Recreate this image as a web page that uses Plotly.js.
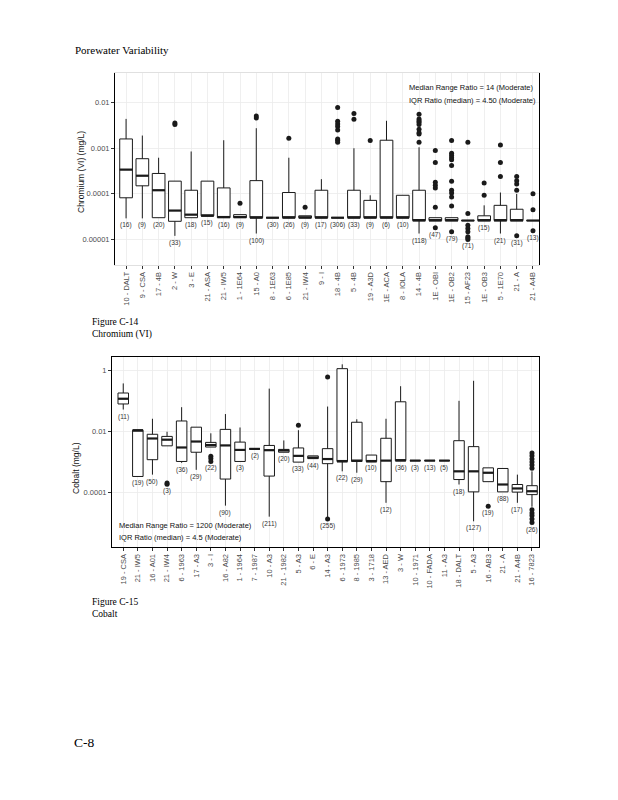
<!DOCTYPE html>
<html><head><meta charset="utf-8">
<script src="https://cdn.plot.ly/plotly-3.0.1.min.js"></script>
<style>html,body{margin:0;padding:0;background:#fff;}#chart{width:618px;height:800px;}</style>
</head><body><div id="chart"></div>
<script>
// ---------- Figure C-14: Chromium (VI) ----------
const crSites = ["10 - DALT","9 - CSA","17 - 4B","2 - W","3 - E","21 - ASA","21 - IW5","1 - 1E64","15 - A0","8 - 1E63","6 - 1E85","21 - IW4","9 - I","18 - 4B","5 - 4B","19 - A3D","1E - ACA","8 - IOLA","14 - 4B","1E - OBI","1E - OB2","15 - AF23","1E - OB3","5 - 1E70","21 - A","21 - A4B"];
const crLower  = [2.9e-5,2.9e-5,3.0e-5,1.2e-5,3.0e-5,3.3e-5,3.0e-5,3.0e-5,1.35e-5,3.0e-5,3.0e-5,3.0e-5,3.0e-5,3.0e-5,3.0e-5,3.0e-5,3.0e-5,3.0e-5,1.35e-5,2.6e-5,2.6e-5,2.6e-5,2.6e-5,1.35e-5,2.6e-5,2.6e-5];
const crQ1     = [8.2e-5,1.5e-4,3.0e-5,2.5e-5,3.0e-5,3.3e-5,3.0e-5,3.0e-5,3.0e-5,3.0e-5,3.0e-5,3.0e-5,3.0e-5,3.0e-5,3.0e-5,3.0e-5,3.0e-5,3.0e-5,2.6e-5,2.6e-5,2.6e-5,2.6e-5,2.6e-5,2.6e-5,2.6e-5,2.6e-5];
const crMedian = [3.4e-4,2.5e-4,1.2e-4,4.3e-5,3.5e-5,3.3e-5,3.1e-5,3.1e-5,3.0e-5,3.0e-5,3.0e-5,3.0e-5,3.0e-5,3.0e-5,3.0e-5,3.0e-5,3.0e-5,3.0e-5,2.6e-5,2.6e-5,2.6e-5,2.6e-5,2.6e-5,2.6e-5,2.6e-5,2.6e-5];
const crQ3     = [1.6e-3,5.9e-4,2.8e-4,1.9e-4,1.2e-4,1.9e-4,1.35e-4,3.5e-5,1.95e-4,3.0e-5,1.07e-4,3.3e-5,1.2e-4,3.0e-5,1.2e-4,7.2e-5,1.5e-3,9.3e-5,1.2e-4,3.0e-5,3.0e-5,2.6e-5,3.3e-5,5.6e-5,4.6e-5,2.6e-5];
const crUpper  = [4.4e-3,1.9e-3,6.2e-4,1.9e-4,8.5e-4,1.9e-4,1.5e-3,3.5e-5,2.75e-3,3.0e-5,6.2e-4,3.3e-5,2.1e-4,3.0e-5,1.0e-3,9.3e-5,4.0e-3,9.3e-5,1.05e-3,3.0e-5,3.0e-5,2.6e-5,5.6e-5,1.07e-4,1.0e-4,2.6e-5];
const crN      = [16,9,20,33,18,15,16,9,100,30,26,9,17,306,33,9,6,10,118,47,79,71,15,21,31,13];
const crOutliers = [[],[],[],[3.6e-3,3.3e-3],[],[],[],[6.2e-5],[5.1e-3,4.6e-3],[],[1.66e-3],[5.1e-5],[],
  [7.8e-3,3.9e-3,3.4e-3,3.0e-3,2.5e-3,1.6e-3,1.5e-3,1.35e-3],[5.8e-3,4.3e-3],[1.48e-3],[],[],
  [5.6e-3,4.4e-3,4.0e-3,3.7e-3,3.3e-3,2.6e-3,2.2e-3,2.05e-3,1.35e-3],
  [8.9e-4,4.9e-4,1.8e-4,1.55e-4,1.35e-4,5.1e-5,1.8e-5],
  [1.48e-3,7.8e-4,6.9e-4,6.2e-4,5.6e-4,4.2e-4,1.9e-4,1.2e-4,1.05e-4,8.5e-5,5.4e-5,1.47e-5],
  [1.35e-3,3.7e-5,2.05e-5,1.74e-5,1.47e-5,1.15e-5,1.07e-5,1.0e-5],
  [1.74e-4,9.3e-5],[1.18e-3,4.9e-4,2.4e-4],[2.4e-4,1.95e-4,1.65e-4,1.2e-4,1.2e-5],[1.0e-4,4.5e-5,1.55e-5]];
const crTicks = [0.01,0.001,0.0001,0.00001];
const crTickText = ["0.01","0.001","0.0001","0.00001"];

// ---------- Figure C-15: Cobalt ----------
const coSites = ["19 - CSA","21 - IW5","16 - A01","21 - IW4","6 - 1963","17 - A3","3 - I","16 - A82","1 - 1964","7 - 1987","10 - A3","21 - 1982","5 - A3","6 - E","14 - A3","6 - 1973","8 - 1985","3 - 1718","13 - AED","3 - W","10 - 1971","10 - FADA","11 - A3","18 - DALT","5 - A3","16 - AB3","21 - A","21 - A4B","16 - 7823"];
const coLower  = [0.052,3.4e-4,3.9e-4,3.4e-3,9.5e-4,5.6e-4,3.1e-3,3.8e-5,1.05e-3,2.7e-3,1.66e-5,2.1e-3,1.0e-3,1.3e-3,1.5e-5,5.0e-4,4.5e-4,1.05e-3,4.7e-5,1.12e-3,1.12e-3,1.12e-3,1.12e-3,1.86e-4,1.17e-5,2.3e-4,1.07e-4,4.7e-5,3.5e-5];
const coQ1     = [0.079,3.4e-4,1.2e-3,3.4e-3,1.05e-3,2.1e-3,3.1e-3,2.8e-4,1.05e-3,2.7e-3,3.5e-4,2.1e-3,1.0e-3,1.3e-3,8.9e-4,1.05e-3,1.05e-3,1.05e-3,2.3e-4,1.12e-3,1.12e-3,1.12e-3,1.12e-3,2.7e-4,1.07e-4,2.3e-4,1.07e-4,1.05e-4,8.7e-5];
const coMedian = [0.117,0.011,5.9e-3,5.4e-3,3.0e-3,4.7e-3,3.6e-3,3.5e-3,2.5e-3,2.7e-3,2.45e-3,2.4e-3,1.6e-3,1.4e-3,1.26e-3,1.05e-3,1.12e-3,1.05e-3,1.12e-3,1.12e-3,1.12e-3,1.12e-3,1.12e-3,5.0e-4,5.0e-4,4.5e-4,1.86e-4,1.38e-4,1.12e-4];
const coQ3     = [0.18,0.011,8.1e-3,6.9e-3,0.022,0.0138,4.4e-3,0.0117,4.5e-3,2.7e-3,3.5e-3,2.6e-3,2.9e-3,1.6e-3,2.75e-3,1.12,0.02,1.7e-3,6.0e-3,0.093,1.12e-3,1.12e-3,1.12e-3,5.0e-3,3.2e-3,6.5e-4,6.2e-4,1.86e-4,1.7e-4];
const coUpper  = [0.37,0.011,0.026,9.8e-3,0.062,0.0138,8.7e-3,0.037,0.0135,2.7e-3,0.25,5.1e-3,0.011,1.6e-3,0.065,1.55,0.025,1.7e-3,0.026,0.30,1.12e-3,1.12e-3,1.12e-3,0.1,0.45,6.5e-4,6.2e-4,3.9e-4,5.0e-4];
const coN      = [11,19,50,3,36,29,22,90,3,2,211,20,33,44,255,22,29,10,12,36,3,13,5,18,127,19,88,17,26];
const coOutliers = [[],[],[],[2.1e-4,1.9e-4],[],[],[1.55e-3,1.3e-3,1.05e-3],[],[],[],[],[],[0.016],[],[0.6,1.4e-5],[],[],[],[],[],[],[],[],[],[],[3.6e-5],[],[],
  [2.0e-3,1.6e-3,1.26e-3,1.0e-3,8.0e-4,6.3e-4,2.8e-5,2.2e-5,1.8e-5,1.4e-5,1.07e-5]];
const coTicks = [1,0.01,0.0001];
const coTickText = ["1","0.01","0.0001"];

// ---------- drawing ----------
const LINE = '#1a1a1a';
function panel(sites, lf, q1, med, q3, uf, outl, nArr, xa, ya, w) {
  const idx = sites.map((_, i) => i);
  const traces = [];
  traces.push({type:'box', x: idx, lowerfence: lf, q1: q1, median: med, q3: q3, upperfence: uf,
    xaxis: xa, yaxis: ya, width: w, fillcolor: '#ffffff', line: {color: LINE, width: 1},
    whiskerwidth: 0, boxpoints: false, hoverinfo: 'skip', showlegend: false});
  const mx = [], my = [];
  idx.forEach(i => { mx.push(i - w/2, i + w/2, null); my.push(med[i], med[i], null); });
  traces.push({type:'scatter', mode:'lines', x: mx, y: my, xaxis: xa, yaxis: ya,
    line: {color: LINE, width: 2.2}, hoverinfo:'skip', showlegend:false});
  const ox = [], oy = [];
  outl.forEach((arr, i) => arr.forEach(v => { ox.push(i); oy.push(v); }));
  traces.push({type:'scatter', mode:'markers', x: ox, y: oy, xaxis: xa, yaxis: ya,
    marker: {color: LINE, size: 5}, hoverinfo:'skip', showlegend:false});
  const ann = idx.map(i => {
    const lo = Math.min(lf[i], ...(outl[i].length ? outl[i] : [Infinity]));
    return {xref: xa, yref: ya, x: i, y: Math.log10(lo), text: '(' + nArr[i] + ')',
      showarrow: false, yanchor: 'top', yshift: -1, font: {family: 'Liberation Sans, Arial', size: 6.5, color: '#333'}};
  });
  return {traces, ann};
}

const p1 = panel(crSites, crLower, crQ1, crMedian, crQ3, crUpper, crOutliers, crN, 'x', 'y', 0.78);
const p2 = panel(coSites, coLower, coQ1, coMedian, coQ3, coUpper, coOutliers, coN, 'x2', 'y2', 0.72);

const W = 618, H = 800;
const px = v => v / W, py = v => 1 - v / H;
const tickFont = {family: 'Liberation Sans, Arial', size: 7.5, color: '#4d4d4d'};
const serif = 'Liberation Serif, Times New Roman, serif';
const sans = 'Liberation Sans, Arial, sans-serif';

function pageText(x, y, text, size, extra) {
  return Object.assign({xref:'paper', yref:'paper', x: px(x), y: py(y), text: text, showarrow:false,
    xanchor:'left', yanchor:'middle', font:{family: serif, size: size, color:'#000'}}, extra || {});
}

const annotations = [
  pageText(73, 50, 'Porewater Variability', 11),
  pageText(90, 322, 'Figure C-14', 9.5),
  pageText(90, 334, 'Chromium (VI)', 9.5),
  pageText(90, 602, 'Figure C-15', 9.5),
  pageText(90, 614, 'Cobalt', 9.5),
  pageText(72, 742, 'C-8', 13.5),
  {xref:'paper', yref:'paper', x: px(407), y: py(88), text:'Median Range Ratio = 14 (Moderate)', showarrow:false,
    xanchor:'left', yanchor:'middle', font:{family: sans, size: 7.5, color:'#111'}},
  {xref:'paper', yref:'paper', x: px(407), y: py(100), text:'IQR Ratio (median) = 4.50 (Moderate)', showarrow:false,
    xanchor:'left', yanchor:'middle', font:{family: sans, size: 7.5, color:'#111'}},
  {xref:'paper', yref:'paper', x: px(117), y: py(525), text:'Median Range Ratio = 1200 (Moderate)', showarrow:false,
    xanchor:'left', yanchor:'middle', font:{family: sans, size: 7.5, color:'#111'}},
  {xref:'paper', yref:'paper', x: px(117), y: py(537), text:'IQR Ratio (median) = 4.5 (Moderate)', showarrow:false,
    xanchor:'left', yanchor:'middle', font:{family: sans, size: 7.5, color:'#111'}},
  {xref:'paper', yref:'paper', x: px(81), y: py(172), text:'Chromium (VI) (mg/L)', textangle:-90, showarrow:false,
    xanchor:'center', yanchor:'middle', font:{family: sans, size: 8.5, color:'#111'}},
  {xref:'paper', yref:'paper', x: px(76), y: py(468), text:'Cobalt (mg/L)', textangle:-90, showarrow:false,
    xanchor:'center', yanchor:'middle', font:{family: sans, size: 8.5, color:'#111'}}
].concat(p1.ann, p2.ann);

const layout = {
  width: W, height: H, margin: {l:0, r:0, t:0, b:0}, paper_bgcolor:'#fff', plot_bgcolor:'#fff',
  showlegend: false, annotations: annotations,
  xaxis: {domain:[px(115), px(539)], anchor:'y', range:[-0.68, 25.37],
    tickvals: crSites.map((_, i) => i), ticktext: crSites, tickangle: -90, tickfont: tickFont,
    showgrid: true, gridcolor:'#ebebeb', gridwidth: 0.8, zeroline:false, ticks:'outside', ticklen:3, tickcolor:'#333',
    showline: true, linecolor:'#e0e0e0', mirror: true},
  yaxis: {domain:[py(265), py(73)], anchor:'x', type:'log', range:[-5.56, -1.35],
    tickvals: crTicks, ticktext: crTickText, tickfont: tickFont,
    showgrid: true, gridcolor:'#ebebeb', gridwidth: 0.8, zeroline:false, ticks:'outside', ticklen:3, tickcolor:'#333',
    showline: true, linecolor:'#000', linewidth: 1, mirror: true},
  xaxis2: {domain:[px(112), px(539)], anchor:'y2', range:[-0.77, 28.48],
    tickvals: coSites.map((_, i) => i), ticktext: coSites, tickangle: -90, tickfont: tickFont,
    showgrid: true, gridcolor:'#ebebeb', gridwidth: 0.8, zeroline:false, ticks:'outside', ticklen:3, tickcolor:'#333',
    showline: true, linecolor:'#000', linewidth: 1, mirror: true},
  yaxis2: {domain:[py(547), py(357)], anchor:'x2', type:'log', range:[-5.77, 0.43],
    tickvals: coTicks, ticktext: coTickText, tickfont: tickFont,
    showgrid: true, gridcolor:'#ebebeb', gridwidth: 0.8, zeroline:false, ticks:'outside', ticklen:3, tickcolor:'#333',
    showline: true, linecolor:'#000', linewidth: 1, mirror: true}
};

Plotly.newPlot('chart', p1.traces.concat(p2.traces), layout, {staticPlot: true, displayModeBar: false});
</script>
</body></html>
